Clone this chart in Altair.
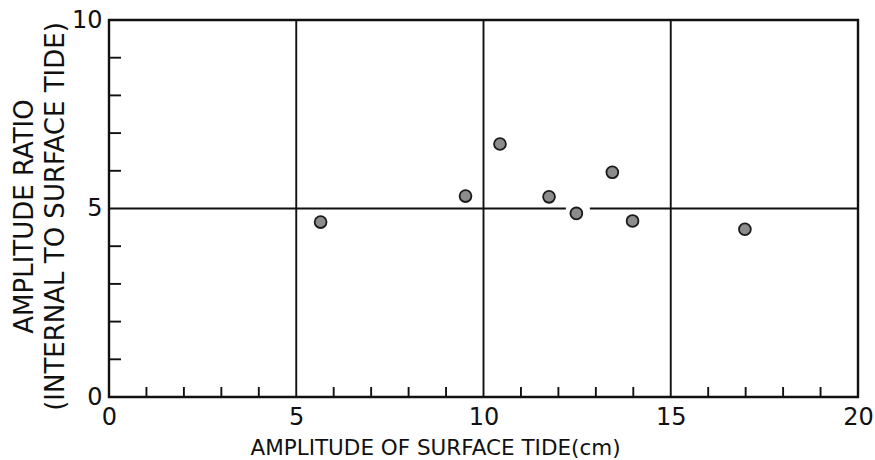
import altair as alt
import pandas as pd

# data
amp_surface = [5.65, 9.52, 10.44, 11.75, 12.48, 13.44, 13.98, 16.98]
amp_ratio = [4.64, 5.33, 6.71, 5.31, 4.87, 5.96, 4.67, 4.45]

x_major = [0, 5, 10, 15, 20]
y_major = [0, 5, 10]
x_grid = [5, 10, 15]
x_minor = [1, 2, 3, 4, 6, 7, 8, 9, 11, 12, 13, 14, 16, 17, 18, 19]
y_minor = [1, 2, 3, 4, 6, 7, 8, 9]
# horizontal line at ratio 5, broken around a point
hseg_start = [0, 12.84]
hseg_end = [12.2, 20]
hseg_y = [5, 5]

W, H = 749, 377
FONT = "DejaVu Sans"

pts = pd.DataFrame({"x": amp_surface, "y": amp_ratio})
xs = alt.Scale(domain=[0, 20], nice=False, zero=False)
ys = alt.Scale(domain=[0, 10], nice=False, zero=False)

base_x = alt.X(
    "x:Q", scale=xs,
    axis=alt.Axis(
        values=x_major, ticks=False, domain=False, grid=False, labelFlush=False,
        labelFontSize=24, labelFont=FONT, labelColor="#111", labelPadding=8,
        title="AMPLITUDE OF SURFACE TIDE(cm)", titleFont=FONT, titleFontSize=21.5,
        titleFontWeight="normal", titleColor="#111",
        titleX=326, titleY=57, titleAnchor="start", titleAlign="center",
        titleBaseline="alphabetic",
    ),
)
base_y = alt.Y(
    "y:Q", scale=ys,
    axis=alt.Axis(
        values=y_major, ticks=False, domain=False, grid=False, labelFlush=False,
        labelFontSize=24, labelFont=FONT, labelColor="#111", labelPadding=7,
        title=["AMPLITUDE RATIO", "(INTERNAL TO SURFACE TIDE)"],
        titleFont=FONT, titleFontSize=26, titleFontWeight="normal",
        titleColor="#111", titleLineHeight=31, titlePadding=3,
        titleY=196,
    ),
)

points = alt.Chart(pts).mark_point(
    shape="circle", filled=True, size=140, fill="#8c8c8c",
    stroke="#1a1a1a", strokeWidth=1.8, opacity=1,
).encode(x=base_x, y=base_y)

vgrid = alt.Chart(pd.DataFrame({"x": x_grid})).mark_rule(
    color="#111", strokeWidth=1.9
).encode(x=alt.X("x:Q", scale=xs), y=alt.value(0), y2=alt.value(H))

hgrid = alt.Chart(pd.DataFrame({"x": hseg_start, "x2": hseg_end, "y": hseg_y})).mark_rule(
    color="#111", strokeWidth=1.9
).encode(x=alt.X("x:Q", scale=xs), x2="x2:Q", y=alt.Y("y:Q", scale=ys))

xticks = alt.Chart(pd.DataFrame({"x": x_minor})).mark_rule(
    color="#111", strokeWidth=1.9
).encode(x=alt.X("x:Q", scale=xs), y=alt.value(H), y2=alt.value(H - 10))

yticks = alt.Chart(pd.DataFrame({"y": y_minor})).mark_rule(
    color="#111", strokeWidth=1.9
).encode(y=alt.Y("y:Q", scale=ys), x=alt.value(0), x2=alt.value(12))

chart = alt.layer(vgrid, hgrid, xticks, yticks, points).properties(
    width=W, height=H,
    autosize=alt.AutoSizeParams(type="none"),
    padding={"left": 109, "top": 20, "right": 17, "bottom": 63},
    background="white",
).configure_view(stroke="#111", strokeWidth=2.4)

chart.save("out.html", embed_options={"renderer": "svg", "actions": False})
